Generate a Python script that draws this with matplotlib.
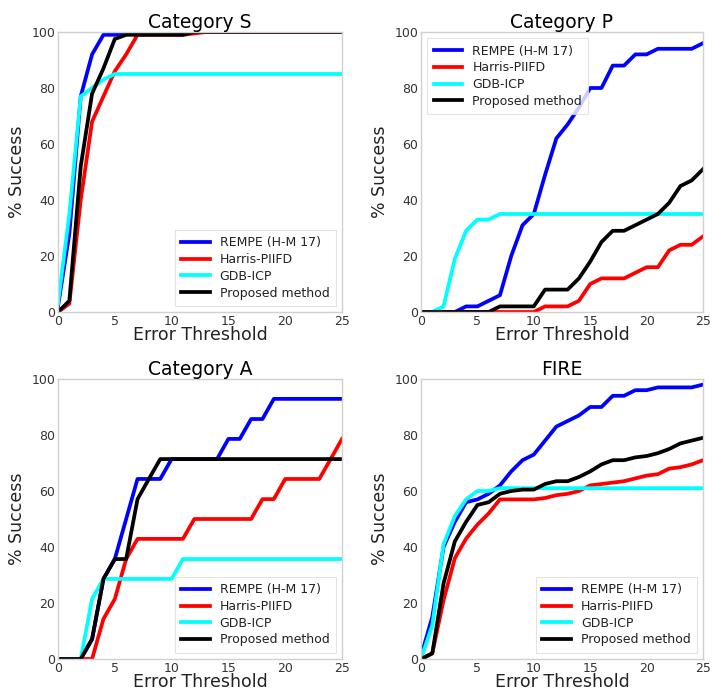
import numpy as np
import matplotlib
matplotlib.use("Agg")
import matplotlib.pyplot as plt

thresholds = list(range(26))
methods = ["REMPE (H-M 17)", "Harris-PIIFD", "GDB-ICP", "Proposed method"]
colors = ["#0000ff", "#ff0000", "#00ffff", "#000000"]

# Category S
s_rempe = [2, 28, 77, 92, 99, 99, 100, 100, 100, 100, 100, 100, 100, 100, 100, 100, 100, 100, 100, 100, 100, 100, 100, 100, 100, 100]
s_harris = [0, 3, 40, 68, 77, 86, 92, 99, 99, 99, 99, 99, 99.5, 100, 100, 100, 100, 100, 100, 100, 100, 100, 100, 100, 100, 100]
s_gdb = [3, 35, 77, 80, 83, 85, 85, 85, 85, 85, 85, 85, 85, 85, 85, 85, 85, 85, 85, 85, 85, 85, 85, 85, 85, 85]
s_prop = [0, 4, 52, 78, 87, 97.5, 99, 99, 99, 99, 99, 99, 100, 100, 100, 100, 100, 100, 100, 100, 100, 100, 100, 100, 100, 100]

# Category P
p_rempe = [0, 0, 0, 0, 2, 2, 4, 6, 20, 31, 35, 49, 62, 67, 73, 80, 80, 88, 88, 92, 92, 94, 94, 94, 94, 96]
p_harris = [0, 0, 0, 0, 0, 0, 0, 0, 0, 0, 0, 2, 2, 2, 4, 10, 12, 12, 12, 14, 16, 16, 22, 24, 24, 27]
p_gdb = [0, 0, 2, 19, 29, 33, 33, 35, 35, 35, 35, 35, 35, 35, 35, 35, 35, 35, 35, 35, 35, 35, 35, 35, 35, 35]
p_prop = [0, 0, 0, 0, 0, 0, 0, 2, 2, 2, 2, 8, 8, 8, 12, 18, 25, 29, 29, 31, 33, 35, 39, 45, 47, 51]

# Category A
a_rempe = [0, 0, 0, 7.1, 28.6, 35.7, 50, 64.3, 64.3, 64.3, 71.4, 71.4, 71.4, 71.4, 71.4, 78.6, 78.6, 85.7, 85.7, 92.9, 92.9, 92.9, 92.9, 92.9, 92.9, 92.9]
a_harris = [0, 0, 0, 0, 14.3, 21.4, 35.7, 42.9, 42.9, 42.9, 42.9, 42.9, 50, 50, 50, 50, 50, 50, 57.1, 57.1, 64.3, 64.3, 64.3, 64.3, 71.4, 78.6]
a_gdb = [0, 0, 0, 21.4, 28.6, 28.6, 28.6, 28.6, 28.6, 28.6, 28.6, 35.7, 35.7, 35.7, 35.7, 35.7, 35.7, 35.7, 35.7, 35.7, 35.7, 35.7, 35.7, 35.7, 35.7, 35.7]
a_prop = [0, 0, 0, 7.1, 28.6, 35.7, 35.7, 57.1, 64.3, 71.4, 71.4, 71.4, 71.4, 71.4, 71.4, 71.4, 71.4, 71.4, 71.4, 71.4, 71.4, 71.4, 71.4, 71.4, 71.4, 71.4]

# FIRE
f_rempe = [1, 15, 40, 49, 56, 57, 59, 62, 67, 71, 73, 78, 83, 85, 87, 90, 90, 94, 94, 96, 96, 97, 97, 97, 97, 98]
f_harris = [0, 2, 21, 36, 43, 48, 52, 57, 57, 57, 57, 57.5, 58.5, 59, 60, 62, 62.5, 63, 63.5, 64.5, 65.5, 66, 68, 68.5, 69.5, 71]
f_gdb = [0, 12, 41, 51, 57, 60, 60, 61, 61, 61, 61, 61, 61, 61, 61, 61, 61, 61, 61, 61, 61, 61, 61, 61, 61, 61]
f_prop = [0, 2, 27, 42, 49, 55, 56, 59, 60, 60.5, 60.5, 62.5, 63.5, 63.5, 65, 67, 69.5, 71, 71, 72, 72.5, 73.5, 75, 77, 78, 79]

panels = [
    ("Category S", [s_rempe, s_harris, s_gdb, s_prop], "lower right"),
    ("Category P", [p_rempe, p_harris, p_gdb, p_prop], "upper left"),
    ("Category A", [a_rempe, a_harris, a_gdb, a_prop], "lower right"),
    ("FIRE", [f_rempe, f_harris, f_gdb, f_prop], "lower right"),
]

W, H = 713, 693
fig = plt.figure(figsize=(W / 100, H / 100), dpi=100)
rects = [
    (58, 32, 342, 312),
    (421, 32, 703, 312),
    (58, 379, 342, 659),
    (421, 379, 703, 659),
]

for (title, series, loc), (x0, y0, x1, y1) in zip(panels, rects):
    ax = fig.add_axes([x0 / W, 1 - y1 / H, (x1 - x0) / W, (y1 - y0) / H])
    for name, vals, c in zip(methods, series, colors):
        ax.plot(thresholds, vals, color=c, lw=2.7, label=name)
    ax.set_xlim(0, 25)
    ax.set_ylim(0, 100)
    ax.set_xticks([0, 5, 10, 15, 20, 25])
    ax.set_yticks([0, 20, 40, 60, 80, 100])
    ax.tick_params(length=0, pad=2, labelsize=9, colors="#333333")
    for sp in ax.spines.values():
        sp.set_color("#d0d0d0")
        sp.set_linewidth(1.0)
    ax.set_title(title, fontsize=13.5, pad=3)
    ax.set_xlabel("Error Threshold", fontsize=12.5, color="#222222", labelpad=-1)
    ax.set_ylabel("% Success", fontsize=12.5, color="#222222", labelpad=4)
    leg = ax.legend(loc=loc, fontsize=9, handlelength=2.3, labelspacing=0.3,
                    borderpad=0.5, frameon=True, fancybox=False)
    leg.get_frame().set_edgecolor("#dddddd")
    leg.get_frame().set_linewidth(0.8)
    for t in leg.get_texts():
        t.set_color("#222222")

fig.savefig("out.png", dpi=100, facecolor="white")
